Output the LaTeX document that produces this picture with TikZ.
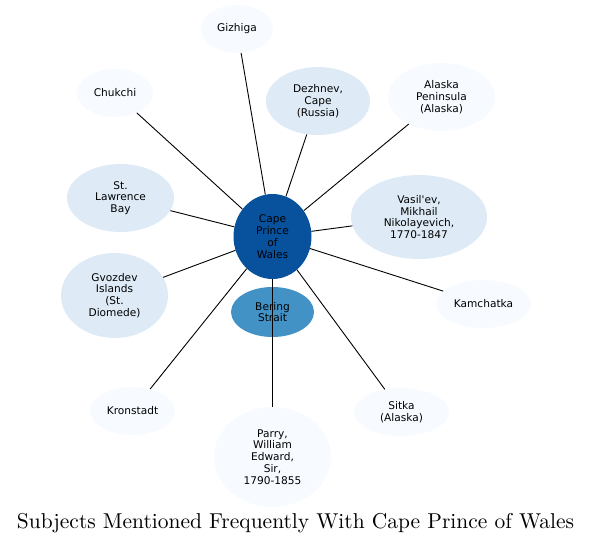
\documentclass[tikz,border=0pt]{standalone}
\usepackage{fontspec}
\usepackage{graphicx}
\newfontfamily\nodefont{DejaVu Sans}
\usetikzlibrary{shapes.geometric}
\definecolor{palest}{HTML}{F7FBFF}
\definecolor{pale}{HTML}{DEEBF7}
\definecolor{mid}{HTML}{4292C6}
\definecolor{deep}{HTML}{08519C}
\tikzset{
  subj/.style={ellipse, inner sep=0pt, align=center, font=\nodefont\fontsize{10.6}{11.8}\selectfont},
  link/.style={line width=0.9pt},
}
\begin{document}
\begin{tikzpicture}[x=1pt, y=-1pt]
            \useasboundingbox (0,0) rectangle (592,544);
            \node[subj, fill=deep, minimum width=78, minimum height=85] (cpw) at (272.5,236.5) {Cape\\Prince\\of\\Wales};
            \node[subj, fill=mid, minimum width=83, minimum height=50] (bering) at (272.5,312) {Bering\\Strait};
            \node[subj, fill=palest, minimum width=72, minimum height=48] (gizhiga) at (237,29) {Gizhiga};
            \node[subj, fill=palest, minimum width=76, minimum height=48] (chukchi) at (115,93) {Chukchi};
            \node[subj, fill=pale, minimum width=104, minimum height=68] (dezhnev) at (318,101) {Dezhnev,\\Cape\\(Russia)};
            \node[subj, fill=palest, minimum width=107, minimum height=68] (alaska) at (441.5,97) {Alaska\\Peninsula\\(Alaska)};
            \node[subj, fill=pale, minimum width=107, minimum height=68] (lawrence) at (120.5,198) {St.\\Lawrence\\Bay};
            \node[subj, fill=pale, minimum width=136, minimum height=84] (vasilev) at (419,217) {Vasil'ev,\\Mikhail\\Nikolayevich,\\1770-1847};
            \node[subj, fill=pale, minimum width=107, minimum height=85] (gvozdev) at (114.5,295.5) {Gvozdev\\Islands\\(St.\\Diomede)};
            \node[subj, fill=palest, minimum width=95, minimum height=48] (kamchatka) at (483.5,304) {Kamchatka};
            \node[subj, fill=palest, minimum width=85, minimum height=48] (kronstadt) at (132.5,411) {Kronstadt};
            \node[subj, fill=palest, minimum width=95, minimum height=48] (sitka) at (401.5,412) {Sitka\\(Alaska)};
            \node[subj, fill=palest, minimum width=117, minimum height=100] (parry) at (272.5,457) {Parry,\\William\\Edward,\\Sir,\\1790-1855};
            \draw[link] (cpw) -- (gizhiga);
            \draw[link] (cpw) -- (chukchi);
            \draw[link] (cpw) -- (dezhnev);
            \draw[link] (cpw) -- (alaska);
            \draw[link] (cpw) -- (lawrence);
            \draw[link] (cpw) -- (vasilev);
            \draw[link] (cpw) -- (gvozdev);
            \draw[link] (cpw) -- (kamchatka);
            \draw[link] (cpw) -- (kronstadt);
            \draw[link] (cpw) -- (sitka);
            \draw[link] (cpw) -- (parry);
            \node[inner sep=0pt] (title) at (295.5,523) {\resizebox{557pt}{!}{Subjects Mentioned Frequently With Cape Prince of Wales}};
        \end{tikzpicture}
\end{document}
